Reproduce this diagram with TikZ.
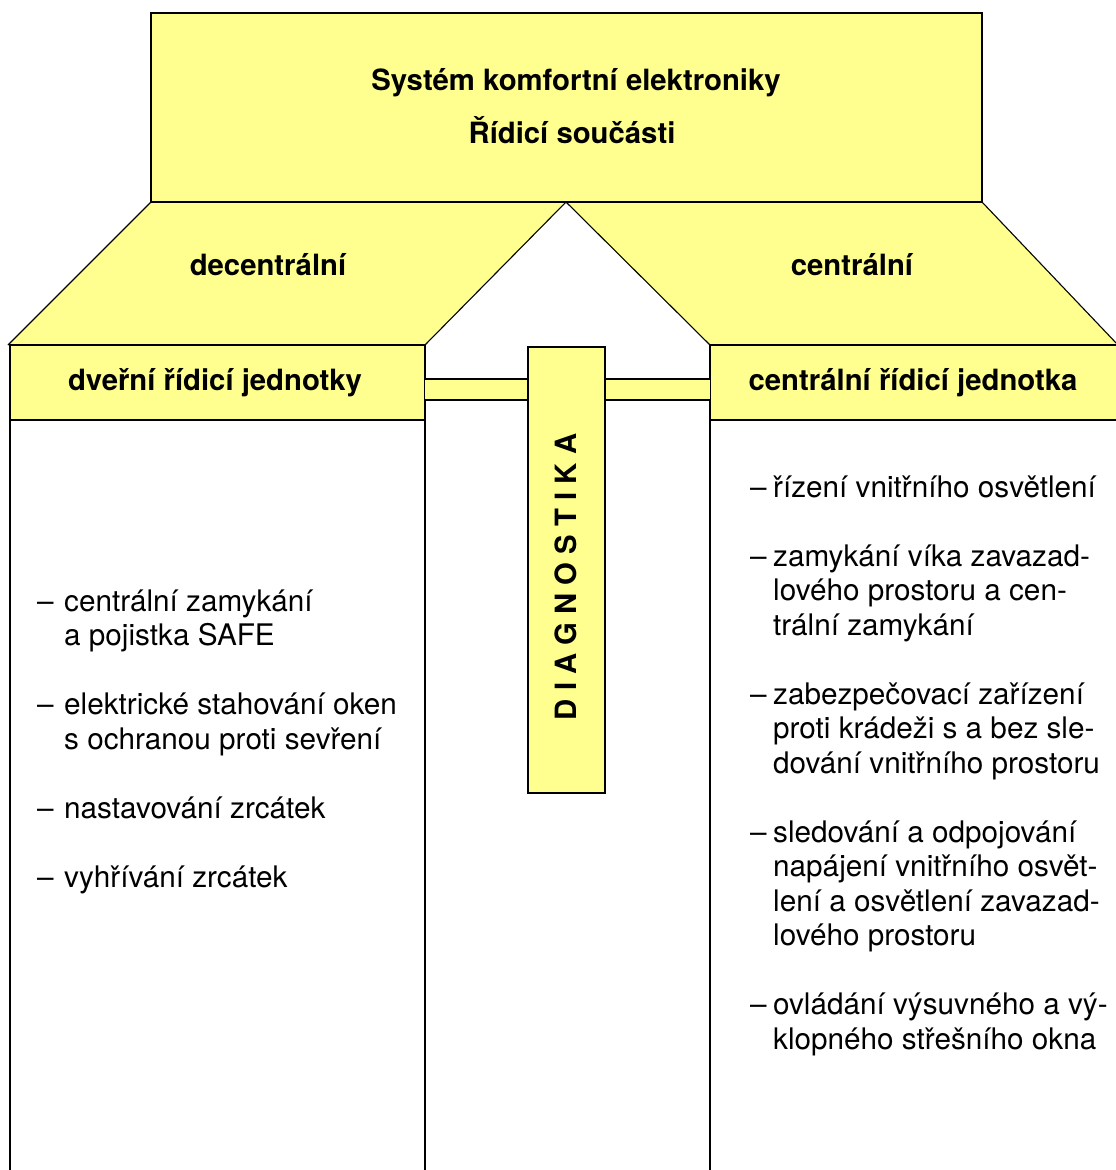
\documentclass[tikz,border=0pt]{standalone}
\usepackage{fontspec}
\setmainfont{TeX Gyre Heros}
\definecolor{yel}{RGB}{255,255,143}
\begin{document}
\begin{tikzpicture}[x=1pt,y=-1pt,
  box/.style={draw=black,line width=1.6pt,fill=yel},
  slant/.style={draw=black,line width=1.1pt},
  thin/.style={draw=black,line width=1.4pt},
  lbl/.style={font=\fontsize{29.3}{34}\selectfont\bfseries,inner sep=0pt,anchor=base},
  body/.style={font=\fontsize{29.7}{34.5}\selectfont,inner sep=0pt,anchor=base west}]
\useasboundingbox (0,0) rectangle (1116,1170);
\fill[white] (0,0) rectangle (1116,1170);
% trapezoids
\fill[yel] (151,202) -- (566,202) -- (425,345) -- (8,345) -- cycle;
\fill[yel] (566,202) -- (982,202) -- (1118,345) -- (710,345) -- cycle;
\draw[slant] (151,202) -- (8,345) (566,202) -- (425,345);
\draw[slant] (566,202) -- (710,345) (982,202) -- (1118,345);
% top box
\draw[box] (151,13) rectangle (982,202);
% column bodies
\draw[thin] (10,420) rectangle (425,1185);
\draw[thin] (710,420) rectangle (1125,1185);
% header boxes
\draw[box] (10,345) rectangle (425,420);
\draw[box] (710,345) rectangle (1125,420);
% connector bars
\fill[yel] (425,379) rectangle (528,400);
\draw[thin] (425,379) -- (528,379) (425,400) -- (528,400);
\fill[yel] (605,379) rectangle (710,400);
\draw[thin] (605,379) -- (710,379) (605,400) -- (710,400);
% diagnostic box
\draw[box] (528,347) rectangle (605,793);
% labels
\node[lbl] (t1) at (576,90) {Systém komfortní elektroniky};
\node[lbl] (t2) at (572,143) {Řídicí součásti};
\node[lbl] (dec) at (268,275) {decentrální};
\node[lbl] (cen) at (852,275) {centrální};
\node[lbl] (dj) at (215,390) {dveřní řídicí jednotky};
\node[lbl] (cj) at (913,390) {centrální řídicí jednotka};
\node[lbl,anchor=center,rotate=90] (diag) at (566,577) {D I A G N O S T I K A};
% left list
\node[body] (left) at (37,611) {\begin{tabular}[t]{@{}l@{}l@{}}
\makebox[27pt][l]{–} & centrální zamykání \\
 & a pojistka SAFE \\[34.5pt]
\makebox[27pt][l]{–} & elektrické stahování oken \\
 & s ochranou proti sevření \\[34.5pt]
\makebox[27pt][l]{–} & nastavování zrcátek \\[34.5pt]
\makebox[27pt][l]{–} & vyhřívání zrcátek
\end{tabular}};
% right list
\node[body] (right) at (750,497) {\begin{tabular}[t]{@{}l@{}l@{}}
\makebox[23pt][l]{–} & řízení vnitřního osvětlení \\[34.5pt]
\makebox[23pt][l]{–} & zamykání víka zavazad- \\
 & lového prostoru a cen- \\
 & trální zamykání \\[34.5pt]
\makebox[23pt][l]{–} & zabezpečovací zařízení \\
 & proti krádeži s a bez sle- \\
 & dování vnitřního prostoru \\[34.5pt]
\makebox[23pt][l]{–} & sledování a odpojování \\
 & napájení vnitřního osvět- \\
 & lení a osvětlení zavazad- \\
 & lového prostoru \\[34.5pt]
\makebox[23pt][l]{–} & ovládání výsuvného a vý- \\
 & klopného střešního okna
\end{tabular}};
\end{tikzpicture}
\end{document}
